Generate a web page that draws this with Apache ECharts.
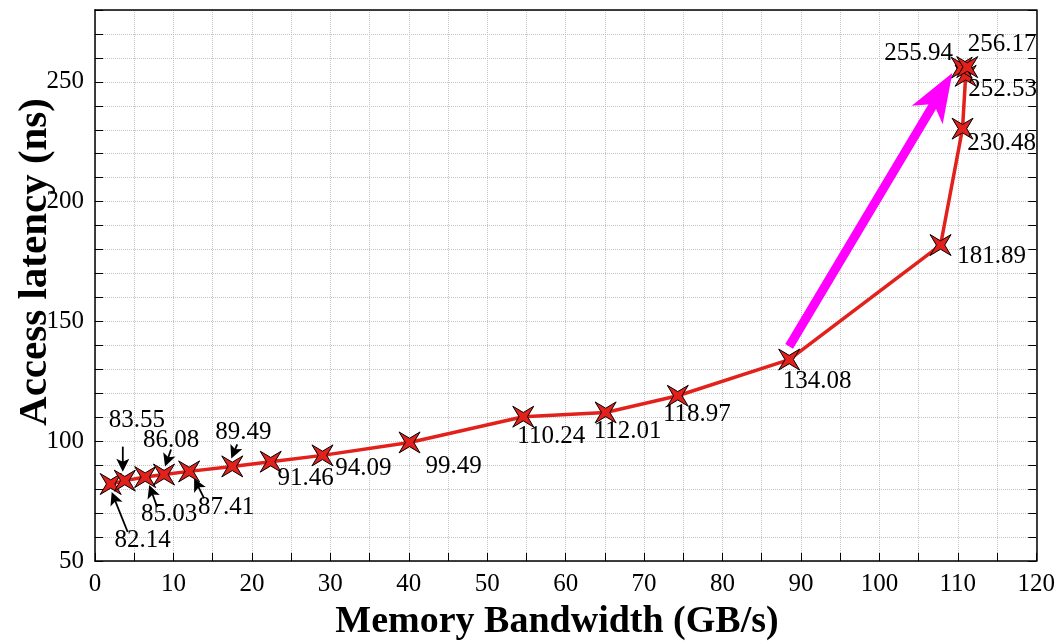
<!DOCTYPE html>
<html>
<head>
<meta charset="utf-8">
<script src="https://cdn.jsdelivr.net/npm/echarts@6/dist/echarts.min.js"></script>
<style>
html,body{margin:0;padding:0;background:#fff;}
#chart{width:1058px;height:644px;}
</style>
</head>
<body>
<div id="chart"></div>
<script>
// ---- data ----
var bandwidth = [2.0, 3.8, 6.4, 8.8, 12.0, 17.5, 22.4, 29.0, 40.1, 54.6, 65.1, 74.3, 88.5, 107.8, 110.6, 111.0, 110.5, 111.2];
var latency   = [82.14, 83.55, 85.03, 86.08, 87.41, 89.49, 91.46, 94.09, 99.49, 110.24, 112.01, 118.97, 134.08, 181.89, 230.48, 252.53, 255.94, 256.17];
var pointLabels = ['82.14','83.55','85.03','86.08','87.41','89.49','91.46','94.09','99.49','110.24','112.01','118.97','134.08','181.89','230.48','252.53','255.94','256.17'];
var xTicks = [0,10,20,30,40,50,60,70,80,90,100,110,120];
var yTicks = [50,100,150,200,250];
var xTitle = 'Memory Bandwidth (GB/s)';
var yTitle = 'Access latency (ns)';
// trend arrow (data coordinates: start, tip)
var trendArrow = [[88.5, 139.6], [109.3, 253.7]];

// ---- layout of annotations (pixel offsets from each point) ----
var labelOffsets = [[32,56],[12,-60],[24,37],[7,-34],[37,36],[11,-34],[35,17],[41,13],[44,24],[28,20],[22,19],[19,19],[28,22],[51,11],[39,15],[37,14],[-43,-14],[35,-23]];
// arrows: [pointIndex, startDx, startDy, tipDx, tipDy]
var pointerArrows = [[0,17,48,1,8],[1,-2,-34,-2,-9],[2,12,30,4,8],[3,7,-25,1,-8],[4,15,27,5,7],[5,5,-22,-1,-8]];

var chart = echarts.init(document.getElementById('chart'));
var FONT = '"Liberation Serif","Times New Roman",serif';

var starPath = 'path://M-10,-10 L0,-4 L10,-10 L4,0 L10,10 L0,4 L-10,10 L-4,0 Z';

var lineData = bandwidth.map(function(b,i){ return [b, latency[i]]; });

function arrowShape(p0, p1, headLen, headHalf, notch) {
  var dx = p1[0]-p0[0], dy = p1[1]-p0[1];
  var L = Math.sqrt(dx*dx+dy*dy); var ux = dx/L, uy = dy/L; var px = -uy, py = ux;
  var bx = p1[0]-ux*headLen, by = p1[1]-uy*headLen;
  var nx = p1[0]-ux*notch, ny = p1[1]-uy*notch;
  return {
    base:[nx+ux*0.5, ny+uy*0.5],
    head:[[p1[0],p1[1]],[bx+px*headHalf, by+py*headHalf],[nx,ny],[bx-px*headHalf, by-py*headHalf]]
  };
}

var option = {
  backgroundColor:'#fff',
  animation:false,
  grid:{left:95,right:11,top:10,bottom:83,containLabel:false},
  xAxis:[{
    type:'value', min:0, max:120, interval:5,
    axisLine:{show:true,onZero:false,lineStyle:{color:'#000',width:1.5}},
    axisTick:{show:true,inside:true,length:8,lineStyle:{color:'#000',width:1}},
    axisLabel:{color:'#000',fontFamily:FONT,fontSize:25,margin:11,
      formatter:function(v){ return xTicks.indexOf(v)>=0 ? String(v) : ''; }},
    splitLine:{show:true,lineStyle:{color:'#c4c4c4',type:'dotted',width:1}}
  },{
    type:'value', min:0, max:120, interval:5, position:'top',
    axisLine:{show:true,onZero:false,lineStyle:{color:'#000',width:1.5}},
    axisTick:{show:false}, axisLabel:{show:false}, splitLine:{show:false}
  }],
  yAxis:[{
    type:'value', min:50, max:280, interval:10,
    axisLine:{show:true,onZero:false,lineStyle:{color:'#000',width:1.5}},
    axisTick:{show:true,inside:true,length:8,lineStyle:{color:'#000',width:1}},
    axisLabel:{color:'#000',fontFamily:FONT,fontSize:25,margin:11,
      formatter:function(v){ return yTicks.indexOf(v)>=0 ? String(v) : ''; }},
    splitLine:{show:true,lineStyle:{color:'#c4c4c4',type:'dotted',width:1}}
  },{
    type:'value', min:50, max:280, interval:10, position:'right',
    axisLine:{show:true,onZero:false,lineStyle:{color:'#000',width:1.5}},
    axisTick:{show:true,inside:true,length:8,lineStyle:{color:'#000',width:1}},
    axisLabel:{show:false}, splitLine:{show:false}
  }],
  graphic:[
    {type:'text', x:557, y:622, style:{text:xTitle, font:'bold 38px '+FONT, fill:'#000', align:'center', verticalAlign:'middle'}},
    {type:'text', x:35, y:262, rotation:Math.PI/2, style:{text:yTitle, font:'bold 41px '+FONT, fill:'#000', align:'center', verticalAlign:'middle'}}
  ],
  series:[
    {
      type:'line', data:lineData, z:3,
      lineStyle:{color:'#e3211c',width:3.5},
      symbol:starPath, symbolSize:21, showAllSymbol:true,
      itemStyle:{color:'#e3211c',borderColor:'#000',borderWidth:1},
      label:{show:false}
    },
    {
      type:'custom', z:5, data:[[trendArrow[0][0],trendArrow[0][1],trendArrow[1][0],trendArrow[1][1]]],
      renderItem:function(params, api){
        var p0 = api.coord([api.value(0),api.value(1)]);
        var p1 = api.coord([api.value(2),api.value(3)]);
        var a = arrowShape(p0,p1,49,18,36);
        return {type:'group', children:[
          {type:'line', shape:{x1:p0[0],y1:p0[1],x2:a.base[0],y2:a.base[1]}, style:{stroke:'#ff00ff',lineWidth:9,lineCap:'butt'}},
          {type:'polygon', shape:{points:a.head}, style:{fill:'#ff00ff'}}
        ]};
      }
    },
    {
      type:'custom', z:6, data:pointerArrows.map(function(a){ return [bandwidth[a[0]], latency[a[0]], a[1], a[2], a[3], a[4]]; }),
      renderItem:function(params, api){
        var c = api.coord([api.value(0),api.value(1)]);
        var p0 = [c[0]+api.value(2), c[1]+api.value(3)];
        var p1 = [c[0]+api.value(4), c[1]+api.value(5)];
        var a = arrowShape(p0,p1,13,6.5,10);
        return {type:'group', children:[
          {type:'line', shape:{x1:p0[0],y1:p0[1],x2:a.base[0],y2:a.base[1]}, style:{stroke:'#000',lineWidth:1.8}},
          {type:'polygon', shape:{points:a.head}, style:{fill:'#000'}}
        ]};
      }
    },
    {
      type:'custom', z:7, data:lineData.map(function(d,i){ return [d[0], d[1], i]; }),
      renderItem:function(params, api){
        var i = api.value(2);
        var c = api.coord([api.value(0),api.value(1)]);
        var o = labelOffsets[i];
        return {type:'text', x:c[0]+o[0], y:c[1]+o[1],
          style:{text:pointLabels[i], font:'25px '+FONT, fill:'#000', align:'center', verticalAlign:'middle'}};
      }
    }
  ]
};
chart.setOption(option);
</script>
</body>
</html>
